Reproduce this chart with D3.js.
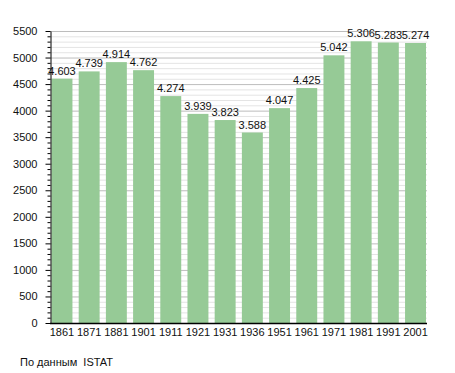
<!DOCTYPE html>
<html><head><meta charset="utf-8">
<script src="https://cdn.jsdelivr.net/npm/d3@7"></script>
<style>body{margin:0;background:#fff}svg{display:block}text{font-family:"Liberation Sans",Arial,sans-serif}</style>
</head><body><svg id="c" width="455" height="373"></svg>
<script>
const years = ["1861","1871","1881","1901","1911","1921","1931","1936","1951","1961","1971","1981","1991","2001"];
const population = [4603,4739,4914,4762,4274,3939,3823,3588,4047,4425,5042,5306,5283,5274];
const yMajorTicks = [0,500,1000,1500,2000,2500,3000,3500,4000,4500,5000,5500];
const sourceText = "По данным  ISTAT";

(function(){
const svg = d3.select("#c");
const pl = 50, pr = 427, pt = 31, pb = 323;
const y = d3.scaleLinear().domain([0,5500]).range([pb, pt]);
const x = d3.scaleBand().domain(years).range([51.5, 426]).paddingInner(0.23).paddingOuter(0);

const minor = d3.range(0, 5501, 100).filter(v => v % 500 !== 0);
svg.append("g").selectAll("line").data(minor).join("line")
  .attr("x1", pl).attr("x2", pr)
  .attr("y1", d => y(d) + 0.5).attr("y2", d => y(d) + 0.5)
  .attr("stroke", "#e4e4e4").attr("stroke-width", 1);
svg.append("g").selectAll("line").data(yMajorTicks.filter(v => v > 0)).join("line")
  .attr("x1", pl).attr("x2", pr)
  .attr("y1", d => y(d) + 0.5).attr("y2", d => y(d) + 0.5)
  .attr("stroke", "#bdbdbd").attr("stroke-width", 1);

svg.append("g").selectAll("rect").data(population).join("rect")
  .attr("x", (d, i) => x(years[i]))
  .attr("y", d => y(d))
  .attr("width", x.bandwidth())
  .attr("height", d => pb - y(d))
  .attr("fill", "#96ca96");

const fmt = d => d3.format(",")(d).replace(/,/g, ".");
svg.append("g").selectAll("text").data(population).join("text")
  .attr("x", (d, i) => x(years[i]) + x.bandwidth() / 2)
  .attr("y", d => y(d) - 4)
  .attr("text-anchor", "middle")
  .attr("font-size", 11).attr("fill", "#111")
  .text(fmt);

// y axis
const ya = svg.append("g").attr("transform", `translate(${pl + 0.5},0)`);
ya.call(d3.axisLeft(y).tickValues(yMajorTicks).tickFormat(d3.format("d")).tickSize(5).tickSizeOuter(0).tickPadding(8));
const ym = ya.append("g").call(d3.axisLeft(y).tickValues(minor).tickSize(3).tickFormat(""));
ym.select(".domain").remove();
ya.selectAll(".domain").attr("stroke", "#000");
ya.selectAll("text").attr("font-size", 11).attr("fill", "#111").attr("font-family", "Liberation Sans, Arial, sans-serif");
ya.selectAll("line").attr("stroke", "#000");

// x axis
const xa = svg.append("g").attr("transform", `translate(0,${pb + 0.5})`);
xa.call(d3.axisBottom(x).tickSize(0).tickPadding(5));
xa.select(".domain").attr("d", `M${pl},0H${pr}`).attr("stroke", "#000").attr("stroke-width", 1.5);
xa.selectAll("text").attr("font-size", 11).attr("fill", "#111").attr("font-family", "Liberation Sans, Arial, sans-serif");

svg.append("text").attr("x", 20).attr("y", 366).attr("font-size", 11).attr("fill", "#111")
  .attr("xml:space", "preserve").style("white-space", "pre").text(sourceText);
})();
</script></body></html>
